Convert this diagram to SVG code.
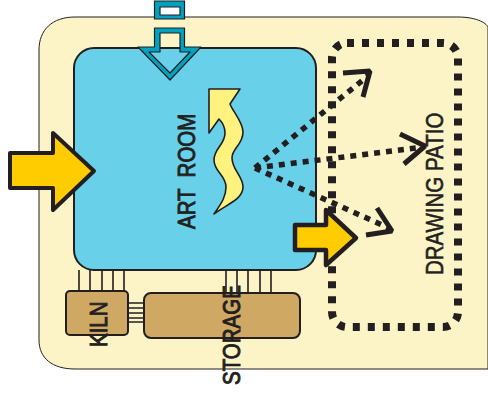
<svg xmlns="http://www.w3.org/2000/svg" width="488" height="394" viewBox="0 0 488 394">
<style>
.o{stroke:#231F20;stroke-width:2;stroke-linejoin:round}
.a{fill:#FFCC00;stroke:#231F20;stroke-linejoin:round}
.t{font-family:"Liberation Sans",Arial,sans-serif;font-size:20.5px;fill:#231F20;stroke:#231F20;stroke-width:.8px;white-space:pre}
.l{stroke:#231F20;stroke-width:1.6;fill:none}
.d{stroke:#231F20;stroke-width:5.5;fill:none;stroke-dasharray:6 6}
.h{stroke:#231F20;stroke-width:5;fill:none;stroke-linejoin:bevel}
</style>
<rect width="488" height="394" fill="#fff"/>
<g id="site"><path d="M75 17H458C478 17 488 24 488 28V369H75C52 369 39 358 39 340V50C39 30 52 17 75 17Z" fill="#FCF3C6" stroke="#231F20" stroke-width="1"/></g>
<g id="art-room"><rect x="74" y="48" width="242" height="222" rx="20" fill="#68D0E8" stroke="#231F20" stroke-width="2"/>
<path d="M209 89H240L230 104C233 112 243 122 243 132C243 145 232 148 232 158C232 170 243 176 243 187C243 200 225 205 214 214C220 205 226 198 226 187C226 175 214 172 214 160C214 148 225 145 225 133C225 127 222 122 219 119L209 133Z" fill="#FFF27F" stroke="#231F20" stroke-width="1.6" stroke-linejoin="round"/>
<text class="t" transform="translate(195 229) rotate(-90) scale(1 1.2)">ART  ROOM</text></g>
<g id="connectors">
<path class="l" d="M79 270V291M90 270V291M102 270V291M113 270V291M124 270V291M226 270V293M237 270V293M248 270V293M260 270V293M271 270V293M128 303H144M128 308H144M128 313H144M128 318H144M128 322H144"/>
<path class="d" d="M255 168L369 75"/><path class="d" d="M255 168L424 147"/><path class="d" d="M255 168L391 229"/>
<path class="h" d="M343 73L370 71L363 97"/><path class="h" d="M400 134L425 146L404 164"/><path class="h" d="M377 208L392 231L366 235"/>
</g>
<g id="kiln"><rect class="o" x="66" y="291" width="62" height="44" rx="4" fill="#CFA864"/><text class="t" transform="translate(107 347) rotate(-90) scale(1 1.2)">KILN</text></g>
<g id="storage"><rect class="o" x="144" y="293" width="156" height="45" rx="7" fill="#CFA864"/><text class="t" transform="translate(240 385) rotate(-90) scale(1 1.2)">STORAGE</text></g>
<g id="drawing-patio"><rect x="332" y="43" width="126" height="284" rx="15" fill="none" stroke="#231F20" stroke-width="8" stroke-dasharray="7 8"/><text class="t" style="stroke-width:.5px" transform="translate(443 275) rotate(-90) scale(1 1.2)">DRAWING PATIO</text></g>
<g id="entry-top">
<path d="M160 7H180V15H160Z" fill="#fff"/>
<path fill-rule="evenodd" d="M154.5 1H184.5V19H154.5ZM160 7V15H180V7Z" fill="#00A3BF" stroke="#231F20" stroke-width="1.2"/>
<path fill-rule="evenodd" d="M154.5 28H184.5V47H201L170 80L138 47H154.5ZM160 33V52H149L170 73L190 52H180V33Z" fill="#00A3BF" stroke="#231F20" stroke-width="1.2" stroke-linejoin="round"/></g>
<g id="arrow-left"><path class="a" stroke-width="4" d="M10 153H53V133L94 171L53 210V188H10Z"/></g>
<g id="arrow-right"><path class="a" stroke-width="4.5" d="M295 225H326V210L356 238L326 265V250H295Z"/></g>
</svg>
